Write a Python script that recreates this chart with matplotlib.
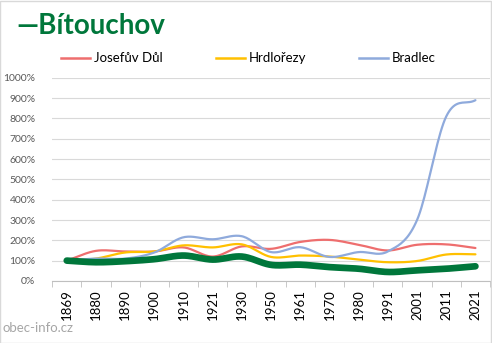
import numpy as np
import matplotlib
matplotlib.use('Agg')
import matplotlib.pyplot as plt
from matplotlib.lines import Line2D

plt.rcParams['font.family'] = ['Lato', 'DejaVu Sans']

# ── Data (percent of 1869 population) ─────────────────────────────────────────
years = ['1869', '1880', '1890', '1900', '1910', '1921', '1930', '1950',
         '1961', '1970', '1980', '1991', '2001', '2011', '2021']
bitouchov = [100, 92, 97, 107, 125, 105, 120, 79, 80, 68, 60, 44, 52, 60, 72]
josefuv_dul = [100, 148, 145, 145, 165, 120, 170, 158, 192, 202, 178, 150, 178, 180, 162]
hrdlorezy = [100, 110, 140, 145, 175, 165, 180, 118, 125, 120, 105, 92, 98, 130, 131]
bradlec = [100, 110, 110, 140, 215, 205, 220, 142, 166, 118, 142, 145, 300, 810, 890]
y_ticks = list(range(0, 1001, 100))

series = [('Josefův Důl', josefuv_dul, '#EE6E6E'),
          ('Hrdlořezy', hrdlorezy, '#FFC000'),
          ('Bradlec', bradlec, '#8FAADC')]
main_color = '#00773B'


def smooth(x, y, n=20):
    """Catmull-Rom style curve through the points (like Excel smoothed lines)."""
    x = np.asarray(x, float)
    y = np.asarray(y, float)
    px = np.concatenate([[2 * x[0] - x[1]], x, [2 * x[-1] - x[-2]]])
    py = np.concatenate([[2 * y[0] - y[1]], y, [2 * y[-1] - y[-2]]])
    xs, ys = [], []
    t = np.linspace(0, 1, n, endpoint=False)
    for i in range(1, len(px) - 2):
        p0, p1, p2, p3 = py[i - 1], py[i], py[i + 1], py[i + 2]
        q0, q1, q2, q3 = px[i - 1], px[i], px[i + 1], px[i + 2]
        for arr, a0, a1, a2, a3 in ((ys, p0, p1, p2, p3), (xs, q0, q1, q2, q3)):
            arr.extend(0.5 * (2 * a1 + (-a0 + a2) * t
                              + (2 * a0 - 5 * a1 + 4 * a2 - a3) * t ** 2
                              + (-a0 + 3 * a1 - 3 * a2 + a3) * t ** 3))
    xs.append(x[-1])
    ys.append(y[-1])
    return np.array(xs), np.array(ys)


fig = plt.figure(figsize=(4.92, 3.43), dpi=100)
fig.patches.append(plt.Rectangle((0.001, 0.001), 0.997, 0.996, transform=fig.transFigure,
                                 fill=False, edgecolor='#D9D9D9', linewidth=1))
ax = fig.add_axes([0.106, 0.181, 0.890, 0.592])

xpos = np.arange(len(years))
for name, vals, col in series:
    sx, sy = smooth(xpos, vals)
    ax.plot(sx, sy, color=col, linewidth=1.6, solid_capstyle='round')
sx, sy = smooth(xpos, bitouchov)
ax.plot(sx, sy, color=main_color, linewidth=4.8, solid_capstyle='round', zorder=5)

ax.set_xlim(-0.5, len(years) - 0.5)
ax.set_ylim(0, 1000)
ax.set_yticks(y_ticks)
ax.set_yticklabels([f'{v}%' for v in y_ticks], fontsize=7.5, color='#595959')
ax.set_xticks(xpos)
ax.set_xticklabels(years, rotation=90, fontsize=9.5, color='#000000')
ax.set_xticks(np.arange(-0.5, len(years)), minor=True)
ax.tick_params(axis='x', which='major', length=0, pad=6)
ax.tick_params(axis='x', which='minor', length=4, color='#BFBFBF')
ax.tick_params(axis='y', length=0, pad=12)
ax.grid(axis='y', color='#D9D9D9', linewidth=0.8)
ax.set_axisbelow(True)
for s in ['top', 'right', 'left']:
    ax.spines[s].set_visible(False)
ax.spines['bottom'].set_color('#BFBFBF')

# title
fig.text(0.033, 0.925, '—Bítouchov', fontsize=20, fontweight='bold', color=main_color,
         va='center', ha='left')

# legend
handles = [Line2D([], [], color=c, linewidth=1.8) for _, _, c in series]
fig.legend(handles, [n for n, _, _ in series], loc='center left', ncol=3,
           bbox_to_anchor=(0.10, 0.83), frameon=False, fontsize=9.5,
           handlelength=2.2, handletextpad=0.3, columnspacing=4.0)

fig.text(0.006, 0.025, 'obec-info.cz', fontsize=9.5, color='#A6A6A6', ha='left', va='bottom')

fig.savefig('out.png', dpi=100)
